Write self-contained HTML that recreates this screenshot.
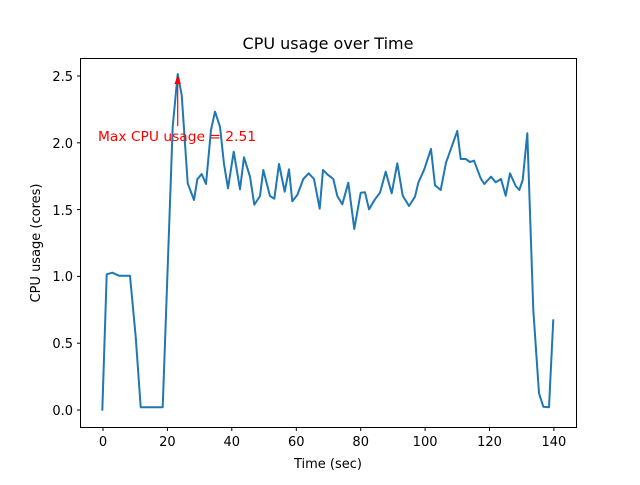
<!DOCTYPE html><html><head><style>body{margin:0;background:#fff}</style></head><body>
<svg width="640" height="480" xmlns="http://www.w3.org/2000/svg" font-family="DejaVu Sans, Liberation Sans, sans-serif">
<rect width="640" height="480" fill="#fff"/>
<text x="328" y="49" font-size="16" text-anchor="middle">CPU usage over Time</text>
<polyline fill="none" stroke="#1f77b4" stroke-width="2" stroke-linejoin="round" points="102.3,410.7 106.7,274.3 112.3,272.7 119,275.7 130,275.7 135.7,336.7 140.7,407.3 162.7,407.3 172.7,126.7 177.7,74 181.7,95 187.7,183.3 194,200 197.3,179.3 201.7,174 206,184 211,130 215,111.7 220,126.7 224,164 228,188.3 233.7,151.7 240,189.3 244,157.3 250,176.7 254.3,204.7 260,196 263.3,170 270,196 274.3,198.7 279,164 284.7,191.7 289,169.3 292.3,201.3 297.3,195 303.3,179 308.7,173.3 314,179 319.7,208.7 323,170 327.3,174.3 333.3,179 337.3,196 342.3,204.3 348.3,182.7 354.3,229 360.7,192.7 365,192.3 369,209.3 375,199.3 380,192.7 385.7,171.7 391.7,193.3 397.3,163.3 402.7,195.7 409,206 415,196.7 418.3,182.7 424.3,169.3 431,149 435,185.3 440.7,190 446,162.7 451.7,146.7 457.3,131 460.7,159 465.7,159 470,162 474,160.7 480.7,178.3 484.3,184 491,176.7 495.7,182.3 501,179 505.7,195.7 510,173.3 515.7,186 519.3,190 522.7,180 527.3,133.3 533.3,310 539,393.3 543.3,406.7 549,407.3 553.3,319.3"/>
<line x1="177.7" y1="126" x2="177.7" y2="80" stroke="red" stroke-width="1.2"/>
<polygon points="177.7,75 174.5,84 180.9,84" fill="red"/>
<text x="98" y="141" font-size="13.5" fill="red" textLength="158" lengthAdjust="spacingAndGlyphs">Max CPU usage = 2.51</text>
<rect x="80.5" y="58.5" width="496" height="369" fill="none" stroke="#000" stroke-width="1"/>
<g stroke="#000" stroke-width="1">
<line x1="103" y1="427.5" x2="103" y2="431"/><line x1="167.4" y1="427.5" x2="167.4" y2="431"/><line x1="231.8" y1="427.5" x2="231.8" y2="431"/><line x1="296.3" y1="427.5" x2="296.3" y2="431"/><line x1="360.7" y1="427.5" x2="360.7" y2="431"/><line x1="425.1" y1="427.5" x2="425.1" y2="431"/><line x1="489.5" y1="427.5" x2="489.5" y2="431"/><line x1="553.9" y1="427.5" x2="553.9" y2="431"/>
<line x1="77" y1="410" x2="80.5" y2="410"/><line x1="77" y1="343.2" x2="80.5" y2="343.2"/><line x1="77" y1="276.4" x2="80.5" y2="276.4"/><line x1="77" y1="209.6" x2="80.5" y2="209.6"/><line x1="77" y1="142.8" x2="80.5" y2="142.8"/><line x1="77" y1="76" x2="80.5" y2="76"/>
</g>
<g font-size="13" text-anchor="middle">
<text x="103" y="446">0</text><text x="167.4" y="446">20</text><text x="231.8" y="446">40</text><text x="296.3" y="446">60</text><text x="360.7" y="446">80</text><text x="425.1" y="446">100</text><text x="489.5" y="446">120</text><text x="553.9" y="446">140</text>
</g>
<g font-size="13" text-anchor="end">
<text x="73" y="415">0.0</text><text x="73" y="348">0.5</text><text x="73" y="281">1.0</text><text x="73" y="215">1.5</text><text x="73" y="148">2.0</text><text x="73" y="81">2.5</text>
</g>
<text x="328" y="468" font-size="13" text-anchor="middle">Time (sec)</text>
<text transform="translate(40,243) rotate(-90)" font-size="13" text-anchor="middle">CPU usage (cores)</text>
</svg></body></html>
